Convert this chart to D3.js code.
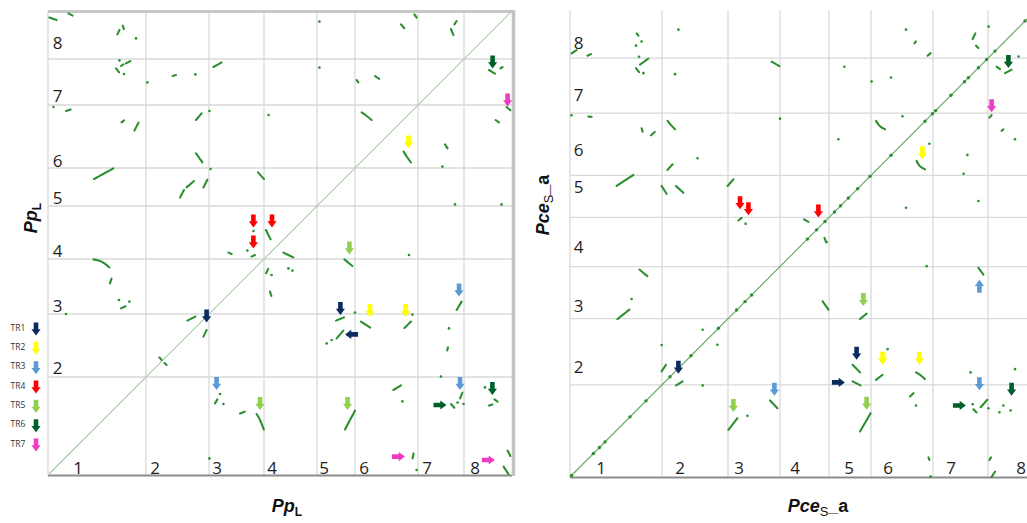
<!DOCTYPE html>
<html>
<head>
<meta charset="utf-8">
<script src="https://cdn.jsdelivr.net/npm/d3@7"></script>
<style>
  body { margin: 0; background: #fff; }
  svg { display: block; }
</style>
</head>
<body>
<svg id="chart" width="1027" height="523"></svg>
<script>
// ---- Chromosome layout (Mb) ----
const chromosomes = ["1", "2", "3", "4", "5", "6", "7", "8"];
const ppLengths  = [49, 31.5, 27.5, 26.5, 19, 31.5, 23, 24];
const pceLengths = [46, 33, 26, 24.5, 21, 31, 27.5, 23.5];

// Chromosome label positions (cumulative Mb)
const ppTickX  = [15, 53.5, 84.5, 112, 138, 158, 189.5, 213.5];
const ppTickY  = [null, 54, 85, 112.5, 139, 157.5, 190, 216.5];
const pceTickX = [15.5, 55, 84.5, 112.5, 139.5, 159, 190.5, 225.5];
const pceTickY = [null, 54.9, 85.8, 114.8, 144.7, 163.2, 190.6, 217];

// Translocation classes
const trNames  = ["TR1", "TR2", "TR3", "TR4", "TR5", "TR6", "TR7"];
const trColors = ["#0b2a5e", "#ffff00", "#5b9bd5", "#ff0000", "#8fd14f", "#00602b", "#f03cc4"];

// ---- Pp_L self alignment: syntenic segments (x1,y1,x2,y2[,x3,y3]) in cumulative Mb ----
const segsPp = [
  [0.7,228.7,4.3,227.5],[10.2,230.8,12.3,229.7],[34.7,220.3,35.7,222.5],[37.3,224.7,38,223],
  [34,203.3,35.7,201.2],[36.5,204.5,37.7,205.3],[39,205.8,41.3,207],[62.3,199.5,64,200],
  [82.7,204,86.8,206.3],[9,182,11.3,182.7],[36.8,176.3,38,177.3],[43.2,172.2,44.2,174.2],
  [44.5,174.8,45.3,176.2],[74,177.5,76.8,180.8],[74,160.8,77.3,156.2],[23,148,32.7,153.3],
  [66,138.8,68,142.5],[69.3,143.8,73,147],[77.7,143.7,79.7,147.7],[105,151.3,108,148],
  [109,122.5,111.3,117.8],[90.2,111.2,91.8,110.5],[101.8,109.2,103.5,110],
  [22.7,107.8,26.8,106.7,30.7,103.8],[31,95.8,31.8,98.3],[36.5,83.3,39,84.5],
  [69.7,77.2,73.7,79.2],[77.7,69.2,79.3,72.5],[55.7,58.8,56.8,57.5],[58.2,56,59.3,55],
  [109,100.8,110.2,103.3],[111,91.7,111.7,89.5],[83.5,35.8,84.7,37.8],[96,30.8,98.5,31.7],
  [104.3,30.5,106,27.5,108,22.5],[117.7,111.2,122.7,108.8],[148.2,107.8,152.2,104.5],
  [144,77.2,148,78.8],[144.3,68.3,147.7,72.2],[156.5,76.7,161.5,73.5],[178.2,73.5,181.5,76.7],
  [204.3,82.5,206.8,86.7],[199.6,62.3,200,63.8],[172.7,42.5,176.5,44.8],[201.5,35.5,203.5,33.3],
  [206,38.3,207.2,41.2],[223.2,37.8,224.8,36.7],[220.5,34.7,222.2,35.3],
  [148.5,22.8,151,27.5,153.5,32.2],[182.3,8.3,182.8,10.8],[229.8,12.2,231.2,9.5],
  [227.8,4.2,230.2,0.5],[176.5,225.3,178.2,223.3],[183.2,230.3,184.3,228.7],
  [201.5,223,202.7,220],[203.2,225.3,204.3,227],[154.3,197.5,155.2,196.3],
  [163.5,199.5,165.7,198],[220.5,202.5,223.5,200.7],[226.2,203.3,227.3,204],
  [229.3,184,231.2,182.3],[223.8,177.5,225.5,176.3],[156.8,181.3,159,179.8,161.8,177.5],
  [177.8,161.7,179.5,159,181.5,156.3],[198.5,165.3,199.8,163.3]
];
const dotsPp = [
  [44,218.3],[35.7,207.3],[38,200.5],[49.7,196.3],[73.7,200.3],[2.7,184],[80.7,182],[110.3,180],
  [81.3,153],[102.7,122],[99.7,112.2],[111.8,100],[35.5,87.5],[40.7,86.7],[9,80.5],[86,40.5],
  [87.7,35.5],[80.7,8.3],[120.2,103.3],[122.2,102.2],[180.5,110],[139.3,65.8],[141.8,67.5],
  [153.5,81.2],[182.2,80.2],[200.5,73.3],[196.5,49.2],[177.2,36.8],[204.8,36.2],[207.8,35.5],
  [218.5,43.8],[184.3,2.5],[135.7,226.7],[135.7,203.7],[197.2,154.2],[203.5,135.3],[226.8,135.3]
];
const arrowsPp = [
  ["TR4",102.7,127,"down"],["TR4",112,127,"down"],["TR4",102.7,116.5,"down"],
  ["TR2",180.3,166.5,"down"],["TR2",161,82.2,"down"],["TR2",178.8,82.2,"down"],
  ["TR6",222.3,206.5,"down"],["TR6",222.2,43.3,"down"],["TR6",196,35,"right"],
  ["TR7",229.8,187.5,"down"],["TR7",175.2,9.2,"right"],["TR7",220.2,7.5,"right"],
  ["TR5",150.7,113.5,"down"],["TR5",106,35.8,"down"],["TR5",149.8,35.8,"down"],
  ["TR1",79.3,79.5,"down"],["TR1",146.2,83.3,"down"],["TR1",151.8,70.3,"left"],
  ["TR3",84.3,45.8,"down"],["TR3",205.5,92.5,"down"],["TR3",206,45.8,"down"]
];

// ---- Pce_S_a self alignment ----
const segsPce = [
  [0.8,211.3,3.3,213],[8.7,210.2,10.5,211],[33.3,221.3,34.2,220.2],[35,205.7,39.2,208.8],
  [33,204,34.7,201.8],[100.8,207.2,104.7,205],[9.2,179.8,10.8,179.7],[35.8,174,36.3,172.3],
  [40.5,170.5,42.5,172.2],[48.8,177.7,50.3,175.8,52.5,173.5],[48.7,153.2,51.3,156],
  [23.3,145.2,31.7,150.7],[45.8,145.2,48.3,141.3],[53,145.2,56.7,141.8],[78.8,145.2,81.7,148.5],
  [84.2,128,85.8,129.3],[172.2,216.3,173,217.3],[178.8,210.2,180.3,211.5],[201.3,218.5,202.7,221.3],
  [203,215.2,204.2,214],[213.3,204.7,215,203.5],[217.5,201.5,220.8,203.2],
  [153,177.7,155,175,157.5,173.5],[209.7,179.3,210.8,180.5],[215.8,172.7,216.7,173.5],
  [173.3,157.7,175,155,177.5,153.5],[117,128.5,119.2,127.3],[127.2,119.3,128,117.3],
  [34.7,103.5,38.7,100.2],[23.7,78.8,29.7,83.5],[45.8,52.7,48,56],[53,45.7,56.3,47.7],
  [126.3,87.7,129.2,83.5],[145,78.8,148.3,81.5],[204.2,104.3,206.7,101],[141.3,56,145,52.2],
  [141.3,47.7,145.3,45.7],[153,48.5,156.3,51],[173,52.2,175,51,177.5,48.8],[170,40.2,171.7,41.8],
  [201.7,33.8,203.3,32.2],[205.3,34.8,208.7,38.5],[79.2,23.5,81.5,26.5,83.7,29.3],
  [100,38.2,103.7,34.3],[145,22.7,147.7,27.3,150.3,31.8],[179.2,9.8,179.7,8.5],
  [209.7,8.5,210.5,9.8],[210.8,0,212.5,2.7]
];
const dotsPce = [
  [33,215.2],[35.8,217.3],[34.5,209.7],[36.7,201.5],[54.2,223.2],[52.5,201],[0.8,180.5],[63.8,159],
  [105,178.8],[87.8,126.3],[168,223.2],[209.3,224.7],[224.3,209.8],[137.2,204.7],[150.8,197.3],
  [160.5,199.3],[166.2,180],[222.5,168.5],[134.2,168.5],[179.7,166.3],[198.7,160.7],[196.8,151.3],
  [168,134.3],[204.2,137.7],[30.8,88.8],[45.8,65.8],[66.3,73.5],[73.7,66],[66.3,45.7],[128.3,117.2],
  [178.3,105.2],[158.8,63.8],[173,35.7],[200.3,52.2],[222.5,53.8],[201.3,36.3],[209.2,34.3],
  [214.7,32.3],[216.7,35.7],[220.3,33.2],[88.7,30.5],[180.3,0.2]
];
// Anchors along the main diagonal (Mb)
const diagDotsPce = [0.8,11.7,14.7,17.5,30,38,50,60.5,74.2,83.3,87.5,90.8,118.7,123.3,127.5,
  132.2,135.3,139.2,143.8,150,160.5,177.5,181.2,182.8,190.5,197.2,199.2,204.2,208.3,212.5,227.5];
const arrowsPce = [
  ["TR4",85,136.8,"down"],["TR4",89.2,133.8,"down"],["TR4",124.2,132.7,"down"],
  ["TR2",176.2,161.8,"down"],["TR2",156.3,59.3,"down"],["TR2",174.7,59.3,"down"],
  ["TR6",219.2,207.3,"down"],["TR6",220.8,43.8,"down"],["TR6",194.7,35.7,"right"],
  ["TR7",210.8,185.2,"down"],
  ["TR5",146.7,88.5,"down"],["TR5",81.7,35.7,"down"],["TR5",148.3,36.8,"down"],
  ["TR1",54.2,54.8,"down"],["TR1",143.3,61.8,"down"],["TR1",134.2,47.2,"right"],
  ["TR3",204.7,95.2,"up"],["TR3",102.2,43.8,"down"],["TR3",204.7,46.5,"down"]
];

// ---- drawing ----
const svg = d3.select("#chart");
svg.append("rect").attr("width", 1027).attr("height", 523).attr("fill", "#fff");

const segColor = "#2b8f30";
const trColor = d3.scaleOrdinal().domain(trNames).range(trColors);
const rotation = { down: 0, up: 180, right: -90, left: 90 };
const arrowPath = "M-2.3,-6.5L2.3,-6.5L2.3,0.3L4.6,0.3L0,6.5L-4.6,0.3L-2.3,0.3Z";

function cumulative(lengths) {
  const out = [0];
  lengths.forEach((l, i) => out.push(out[i] + l));
  return out;
}

function panel(opts) {
  const bounds = cumulative(opts.lengths);
  const total = bounds[bounds.length - 1];
  const x = d3.scaleLinear().domain([0, total]).range(opts.xRange);
  const y = d3.scaleLinear().domain([0, total]).range(opts.yRange);
  const g = svg.append("g");

  // chromosome grid
  g.selectAll(".vgrid").data(bounds.slice(0, -1)).join("line")
    .attr("x1", d => x(d)).attr("x2", d => x(d))
    .attr("y1", opts.gridTop).attr("y2", y(0))
    .attr("stroke", "#d9d9d9").attr("stroke-width", 1.3);
  g.selectAll(".hgrid").data(bounds.slice(1, -1)).join("line")
    .attr("x1", x(0)).attr("x2", opts.gridRight)
    .attr("y1", d => y(d)).attr("y2", d => y(d))
    .attr("stroke", "#d9d9d9").attr("stroke-width", 1.3);

  if (opts.frame) {
    g.append("line").attr("x1", x(0)).attr("x2", x(total) + 3)
      .attr("y1", y(total) + 0.5).attr("y2", y(total) + 0.5)
      .attr("stroke", "#c8c8c8").attr("stroke-width", 3);
    g.append("line").attr("x1", x(total) + 1.5).attr("x2", x(total) + 1.5)
      .attr("y1", y(total) - 1).attr("y2", y(0) + 1)
      .attr("stroke", "#c4c4c4").attr("stroke-width", 3.5);
  }
  // bottom axis line
  g.append("line").attr("x1", x(0)).attr("x2", opts.gridRight)
    .attr("y1", y(0) + 0.5).attr("y2", y(0) + 0.5)
    .attr("stroke", "#8c8c8c").attr("stroke-width", 2);

  // chromosome labels
  const font = "'Open Sans', 'Noto Sans', sans-serif";
  g.selectAll(".xlab").data(chromosomes).join("text")
    .attr("x", (d, i) => x(opts.tickX[i])).attr("y", y(0) - opts.xLabOffset)
    .attr("text-anchor", "middle").attr("dominant-baseline", "central")
    .attr("font-family", font).attr("font-size", 17).attr("fill", "#1e1e1e")
    .text(d => d);
  g.selectAll(".ylab").data(chromosomes.filter((d, i) => opts.tickY[i] !== null)).join("text")
    .attr("x", x(0) + opts.yLabOffset).attr("y", d => y(opts.tickY[chromosomes.indexOf(d)]))
    .attr("text-anchor", "middle").attr("dominant-baseline", "central")
    .attr("font-family", font).attr("font-size", 17).attr("fill", "#1e1e1e")
    .text(d => d);

  // diagonal
  g.append("line").attr("x1", x(0)).attr("y1", y(0)).attr("x2", x(total)).attr("y2", y(total))
    .attr("stroke", opts.diagColor).attr("stroke-width", 1.2);
  g.selectAll(".diag").data(opts.diagDots || []).join("circle")
    .attr("cx", d => x(d)).attr("cy", d => y(d)).attr("r", 1.7).attr("fill", segColor);

  // syntenic blocks
  const line = d3.line().x(p => x(p[0])).y(p => y(p[1])).curve(d3.curveCatmullRom);
  g.selectAll(".seg").data(opts.segs).join("path")
    .attr("d", s => line(d3.range(0, s.length, 2).map(i => [s[i], s[i + 1]])))
    .attr("fill", "none").attr("stroke", segColor).attr("stroke-width", 2.1)
    .attr("stroke-linecap", "round").attr("stroke-dasharray", "5,1");
  g.selectAll(".dot").data(opts.dots).join("circle")
    .attr("cx", d => x(d[0])).attr("cy", d => y(d[1])).attr("r", 1.3).attr("fill", segColor);

  // translocation arrows
  g.selectAll(".arrow").data(opts.arrows).join("path")
    .attr("d", arrowPath)
    .attr("transform", d => `translate(${x(d[1])},${y(d[2])}) rotate(${rotation[d[3]]})`)
    .attr("fill", d => trColor(d[0]));
  return g;
}

panel({
  lengths: ppLengths, xRange: [48, 512], yRange: [475, 11], gridTop: 11, gridRight: 512,
  tickX: ppTickX, tickY: ppTickY, xLabOffset: 8, yLabOffset: 9.5, frame: true,
  diagColor: "#a9cfa9", segs: segsPp, dots: dotsPp, arrows: arrowsPp
});
panel({
  lengths: pceLengths, xRange: [570, 1035], yRange: [477, 11], gridTop: 10, gridRight: 1035,
  tickX: pceTickX, tickY: pceTickY, xLabOffset: 10, yLabOffset: 8.5, frame: false,
  diagColor: "#6aae6a", segs: segsPce, dots: dotsPce, diagDots: diagDotsPce, arrows: arrowsPce
});

// axis titles
const titleFont = "'Liberation Sans', Arial, sans-serif";
function titlePp(sel) {
  sel.attr("font-family", titleFont).attr("font-weight", "bold").attr("font-size", 18).attr("fill", "#111");
  sel.append("tspan").attr("font-style", "italic").text("Pp");
  sel.append("tspan").attr("font-size", 12).attr("dy", 4).text("L");
}
function titlePce(sel) {
  sel.attr("font-family", titleFont).attr("font-weight", "bold").attr("font-size", 18).attr("fill", "#111");
  sel.append("tspan").attr("font-style", "italic").text("Pce");
  sel.append("tspan").attr("font-size", 13).attr("font-weight", "normal").attr("dy", 4).text("S");
  sel.append("tspan").attr("dy", -4).text("_a");
}
svg.append("text").attr("x", 287).attr("y", 512).attr("text-anchor", "middle").call(titlePp);
svg.append("text").attr("transform", "translate(37,218) rotate(-90)").attr("text-anchor", "middle").call(titlePp);
svg.append("text").attr("x", 818).attr("y", 512).attr("text-anchor", "middle").call(titlePce);
svg.append("text").attr("transform", "translate(549,205) rotate(-90)").attr("text-anchor", "middle").call(titlePce);

// legend
const legendY = d3.scalePoint().domain(trNames).range([329, 445]);
const legend = svg.append("g");
legend.selectAll("text").data(trNames).join("text")
  .attr("x", 18).attr("y", d => legendY(d) - 2).attr("text-anchor", "middle")
  .attr("dominant-baseline", "central")
  .attr("font-family", "'Open Sans', 'Noto Sans', sans-serif").attr("font-size", 8.5).attr("fill", "#333")
  .text(d => d);
legend.selectAll("path").data(trNames).join("path")
  .attr("d", arrowPath)
  .attr("transform", d => `translate(36,${legendY(d)})`)
  .attr("fill", d => trColor(d));
</script>
</body>
</html>
